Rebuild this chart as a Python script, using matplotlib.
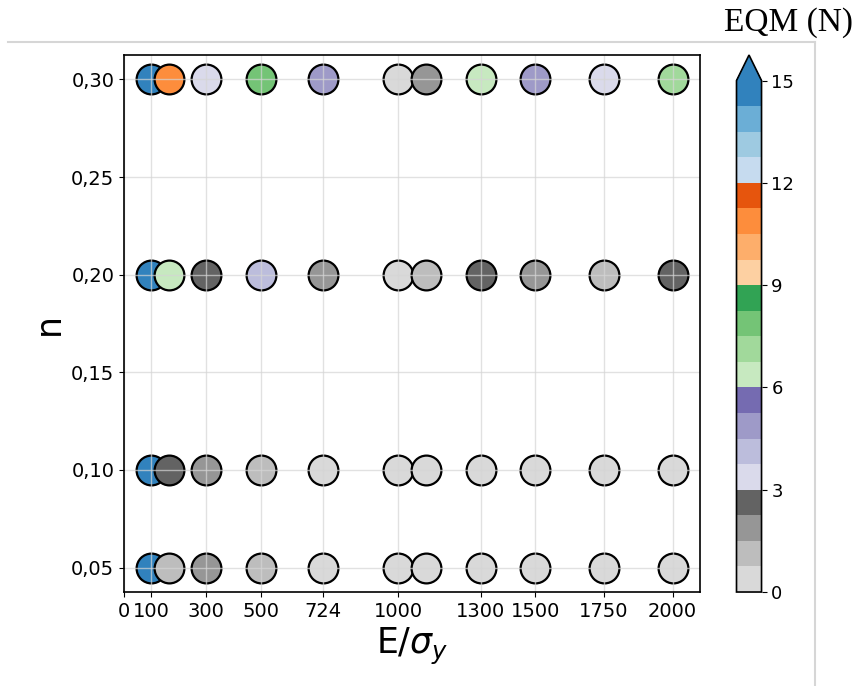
import numpy as np
import matplotlib
matplotlib.use("Agg")
import matplotlib.pyplot as plt
from matplotlib.colors import BoundaryNorm
from matplotlib.lines import Line2D

# data
e_sigma = [100, 165, 300, 500, 724, 1000, 1100, 1300, 1500, 1750, 2000]
n_vals = [0.05, 0.10, 0.20, 0.30]
eqm_005 = [15.5, 1.1, 1.9, 1.1, 0.4, 0.4, 0.4, 0.4, 0.4, 0.4, 0.4]
eqm_010 = [15.5, 2.6, 1.9, 1.1, 0.4, 0.4, 0.4, 0.4, 0.4, 0.4, 0.4]
eqm_020 = [15.5, 6.4, 2.6, 4.1, 1.9, 0.4, 1.1, 2.6, 1.9, 1.1, 2.6]
eqm_030 = [15.5, 10.9, 3.4, 7.9, 4.9, 0.4, 1.9, 6.4, 4.9, 3.4, 7.1]
eqm_rows = [eqm_005, eqm_010, eqm_020, eqm_030]

x_ticks = [0, 100, 300, 500, 724, 1000, 1300, 1500, 1750, 2000]
y_ticks = [0.05, 0.10, 0.15, 0.20, 0.25, 0.30]
y_ticklabels = ["0,05", "0,10", "0,15", "0,20", "0,25", "0,30"]
cbar_ticks = [0, 3, 6, 9, 12, 15]

fig = plt.figure(figsize=(8.57, 6.86), dpi=100)
ax = fig.add_axes([0.1447, 0.137, 0.6721, 0.7828])
cax = fig.add_axes([0.8594, 0.137, 0.0292, 0.7828])

cmap = plt.get_cmap("tab20c_r")
norm = BoundaryNorm(np.linspace(0, 15, 21), 20)

for n, row in zip(n_vals, eqm_rows):
    for x, v in zip(e_sigma, row):
        sc = ax.scatter([x], [n], c=[v], cmap=cmap, norm=norm, s=460,
                        edgecolors="black", linewidths=1.6, zorder=1)

ax.set_xlim(0, 2100)
ax.set_ylim(0.0375, 0.3125)
ax.set_xticks(x_ticks)
ax.set_yticks(y_ticks)
ax.set_yticklabels(y_ticklabels)
ax.tick_params(labelsize=14)
ax.grid(True, color="#d5d5d5", linewidth=1.0, alpha=0.7)
for sp in ax.spines.values():
    sp.set_linewidth(1.2)
ax.set_xlabel(r"E/$\sigma_y$", fontsize=25)
ax.set_ylabel("n", fontsize=25)

cb = fig.colorbar(sc, cax=cax, extend="max", ticks=cbar_ticks)
cb.minorticks_off()
cb.ax.tick_params(labelsize=13)
cb.outline.set_linewidth(1.2)

# frame and title from the original screenshot
fig.add_artist(Line2D([8 / 857, 815 / 857], [1 - 42 / 686, 1 - 42 / 686],
                      transform=fig.transFigure, color="#d6d6d6", lw=1.5))
fig.add_artist(Line2D([815 / 857, 815 / 857], [0, 1 - 42 / 686],
                      transform=fig.transFigure, color="#d6d6d6", lw=1.5))
fig.text(0.995, 0.967, "EQM (N)", ha="right", va="center",
         fontsize=24, family="Liberation Serif")

fig.savefig("out.png", dpi=100)
